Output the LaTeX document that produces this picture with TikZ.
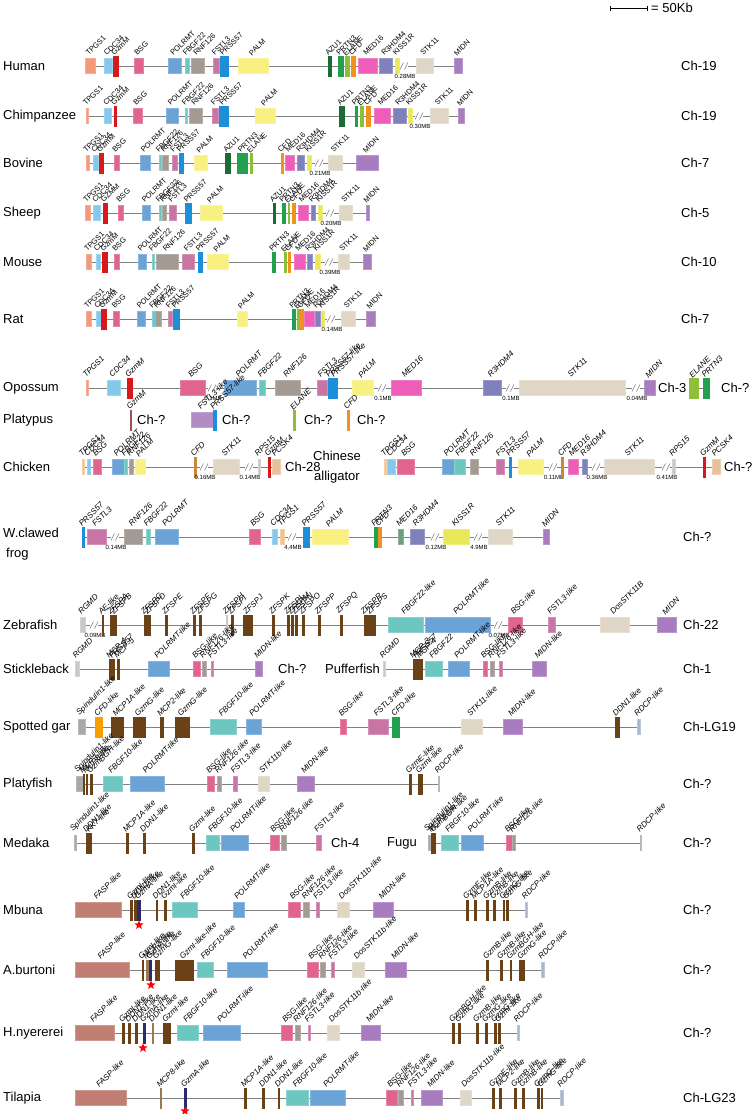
\documentclass[tikz,border=0pt]{standalone}
\usepackage{fontspec}
\setmainfont{Liberation Sans}
\usetikzlibrary{arrows.meta,shapes.geometric}

\definecolor{tpgs}{HTML}{F39A7B}
\definecolor{tpgsb}{HTML}{F2C48D}
\definecolor{cdc}{HTML}{84C9EC}
\definecolor{gzmm}{HTML}{D7191C}
\definecolor{gzmmb}{HTML}{A05050}
\definecolor{bsg}{HTML}{E0648F}
\definecolor{pol}{HTML}{6BA3D6}
\definecolor{fbgf}{HTML}{6CC7C0}
\definecolor{rnf}{HTML}{A39A93}
\definecolor{fstl}{HTML}{C875A6}
\definecolor{prss}{HTML}{1C8FD8}
\definecolor{palm}{HTML}{F8F080}
\definecolor{azu}{HTML}{1B6B36}
\definecolor{prtn}{HTML}{22A050}
\definecolor{elane}{HTML}{8DC03A}
\definecolor{cfd}{HTML}{F0921E}
\definecolor{cfdb}{HTML}{C88A3A}
\definecolor{cfdo}{HTML}{F5A000}
\definecolor{med}{HTML}{EE5DB8}
\definecolor{medf}{HTML}{6E9E80}
\definecolor{rhdm}{HTML}{8080BC}
\definecolor{kiss}{HTML}{E8E85A}
\definecolor{stk}{HTML}{E0D6C6}
\definecolor{midn}{HTML}{A87CBE}
\definecolor{midnl}{HTML}{B28CC4}
\definecolor{brn}{HTML}{6B4218}
\definecolor{brnl}{HTML}{9A7A55}
\definecolor{navy}{HTML}{2C2C6C}
\definecolor{fasp}{HTML}{C07F72}
\definecolor{rdcp}{HTML}{A9B6D2}
\definecolor{spin}{HTML}{A8A8A8}
\definecolor{rgmd}{HTML}{C8C8C8}
\definecolor{pcsk}{HTML}{E8C09A}
\definecolor{rps}{HTML}{C8C8C8}
\definecolor{chromline}{HTML}{808080}

\newcommand{\glfont}{\fontsize{7.5}{9}\selectfont}
\newcount\gcnt
\tikzset{
  chrom/.style={draw=chromline, line width=0.9pt},
  genebox/.style={line width=0.4pt},
  genelabel/.style={font=\glfont, rotate=45, anchor=south west, inner sep=0.5pt},
  distlabel/.style={font=\fontsize{6}{7}\selectfont, inner sep=0pt},
  species/.style={font=\fontsize{13}{20}\selectfont, anchor=west, inner sep=0pt},
  chromlabel/.style={font=\fontsize{13}{15}\selectfont, anchor=west, inner sep=0pt},
  brkline/.style={draw=chromline, line width=0.6pt},
  redstar/.style={star, star points=5, star point ratio=2.3, fill=red, minimum size=9.5pt, inner sep=0pt}
}
% gene box of normal height: x1, x2, colour, name
\newcommand{\gene}[4]{%
  \global\advance\gcnt by 1
  \filldraw[genebox, fill=#3, draw=#3!80!white] (#1,-7.5) rectangle (#2,7.5);
  \node[genelabel] (gl\the\gcnt) at ({(#1+#2)/2-1},9) {#4};}
% tall gene box
\newcommand{\tgene}[4]{%
  \global\advance\gcnt by 1
  \filldraw[genebox, fill=#3, draw=#3] (#1,-10) rectangle (#2,10);
  \node[genelabel] (gl\the\gcnt) at ({(#1+#2)/2-1},9) {#4};}
% break in the line, with distance
\newcommand{\brk}[2]{%
  \fill[white] (#1-4,-2) rectangle (#1+4,2);
  \draw[brkline] (#1-4,-3.5) -- (#1-0.5,3.5) (#1+0.5,-3.5) -- (#1+4,3.5);
  \node[distlabel] at (#1+1,-10) {#2};}

\begin{document}
\begin{tikzpicture}[x=1pt, y=1pt]
    \fill[white] (0,0) rectangle (752,-1114);
    \useasboundingbox (0,0) rectangle (752,-1114);

    \draw[{Bar[width=5pt]}-{Bar[width=5pt]}, line width=0.8pt] (610,-8) -- (648,-8);
    \node[chromlabel] (scale) at (651,-8) {= 50Kb};

    \begin{scope}[yshift=-66]
        \node[species] (human) at (3,0) {Human};
        \draw[chrom] (85,0) -- (462,0);
        \gene{85}{95}{tpgs}{TPGS1}
        \gene{104}{112}{cdc}{CDC34}
        \tgene{113}{118}{gzmm}{GzmM}
        \gene{134}{143}{bsg}{BSG}
        \gene{168}{181}{pol}{POLRMT}
        \gene{185}{189}{fbgf}{FBGF22}
        \gene{191}{204}{rnf}{RNF126}
        \gene{213}{219}{fstl}{FSTL3}
        \tgene{220}{228}{prss}{PRSS57}
        \gene{238}{268}{palm}{PALM}
        \tgene{328}{331}{azu}{AZU1}
        \tgene{338}{343}{prtn}{PRTN3}
        \tgene{345}{349}{elane}{ELANE}
        \tgene{351}{355}{cfd}{CFD}
        \gene{358}{377}{med}{MED16}
        \gene{379}{392}{rhdm}{R3HDM4}
        \gene{395}{399}{kiss}{KISS1R}
        \brk{404}{0.28MB}
        \gene{416}{433}{stk}{STK11}
        \gene{454}{462}{midn}{MIDN}
        \node[chromlabel] (chhuman) at (681,0) {Ch-19};
    \end{scope}

    \begin{scope}[yshift=-116]
        \node[species] (chimp) at (3,0) {Chimpanzee};
        \draw[chrom] (87,0) -- (464,0);
        \gene{86.5}{88}{tpgs}{TPGS1}
        \gene{104}{111}{cdc}{CDC34}
        \tgene{114.5}{116}{gzmm}{GzmM}
        \gene{133}{142}{bsg}{BSG}
        \gene{166}{178}{pol}{POLRMT}
        \gene{185}{187}{fbgf}{FBGF22}
        \gene{189}{202}{rnf}{RNF126}
        \gene{212}{218}{fstl}{FSTL3}
        \tgene{219}{228}{prss}{PRSS57}
        \gene{255}{275}{palm}{PALM}
        \tgene{339}{344}{azu}{AZU1}
        \tgene{355}{357}{prtn}{PRTN3}
        \tgene{360}{363}{elane}{ELANE}
        \tgene{366}{370}{cfd}{CFD}
        \gene{374}{390}{med}{MED16}
        \gene{393}{406}{rhdm}{R3HDM4}
        \gene{408}{412}{kiss}{KISS1R}
        \brk{419}{0.30MB}
        \gene{430}{448}{stk}{STK11}
        \gene{458}{464}{midn}{MIDN}
        \node[chromlabel] (chchimp) at (681,0) {Ch-19};
    \end{scope}

    \begin{scope}[yshift=-163]
        \node[species] (bovine) at (3,0) {Bovine};
        \draw[chrom] (86,0) -- (378,0);
        \gene{86}{89}{tpgs}{TPGS1}
        \gene{93}{98}{cdc}{CDC34}
        \tgene{99}{103}{gzmm}{GzmM}
        \gene{114}{119}{bsg}{BSG}
        \gene{140}{150}{pol}{POLRMT}
        \gene{159}{161}{fbgf}{FBGF22}
        \gene{162}{168}{rnf}{RNF126}
        \gene{172}{177}{fstl}{FSTL3}
        \tgene{179}{183}{prss}{PRSS57}
        \gene{194}{207}{palm}{PALM}
        \tgene{225}{230}{azu}{AZU1}
        \tgene{237}{247}{prtn}{PRTN3}
        \tgene{250}{252}{elane}{ELANE}
        \tgene{281}{283}{cfd}{CFD}
        \gene{285}{294}{med}{MED16}
        \gene{297}{304}{rhdm}{R3HDM4}
        \gene{307}{311}{kiss}{KISS1R}
        \brk{319}{0.21MB}
        \gene{328}{342}{stk}{STK11}
        \gene{356}{378}{midn}{MIDN}
        \node[chromlabel] (chbovine) at (681,0) {Ch-7};
    \end{scope}

    \begin{scope}[yshift=-213]
        \node[species] (sheep) at (3,0) {Sheep};
        \draw[chrom] (85,0) -- (369,0);
        \gene{85}{90}{tpgs}{TPGS1}
        \gene{93}{100}{cdc}{CDC34}
        \tgene{103}{107}{gzmm}{GZMM}
        \gene{118}{123}{bsg}{BSG}
        \gene{142}{150}{pol}{POLRMT}
        \gene{159}{161}{fbgf}{FBGF22}
        \gene{162}{166}{rnf}{RNF126}
        \gene{169}{176}{fstl}{FSTL3}
        \tgene{185}{191}{prss}{PRSS57}
        \gene{200}{222}{palm}{PALM}
        \tgene{273}{275}{azu}{AZU1}
        \tgene{282}{285}{prtn}{PRTN3}
        \tgene{288}{289.5}{elane}{ELANE}
        \tgene{292}{295}{cfd}{CFD}
        \gene{298}{308}{med}{MED16}
        \gene{311}{315}{rhdm}{R3HDM4}
        \gene{318}{322}{kiss}{KISS1R}
        \brk{330}{0.20MB}
        \gene{339}{352}{stk}{STK11}
        \gene{366}{369}{midn}{MIDN}
        \node[chromlabel] (chsheep) at (681,0) {Ch-5};
    \end{scope}

    \begin{scope}[yshift=-262]
        \node[species] (mouse) at (3,0) {Mouse};
        \draw[chrom] (86,0) -- (371,0);
        \gene{86}{91}{tpgs}{TPGS1}
        \gene{96}{100}{cdc}{CDC34}
        \tgene{102}{107}{gzmm}{GzmM}
        \gene{114}{119}{bsg}{BSG}
        \gene{138}{146}{pol}{POLRMT}
        \gene{152}{154}{fbgf}{FBGF22}
        \gene{156}{178}{rnf}{RNF126}
        \gene{182}{194}{fstl}{FSTL3}
        \tgene{198}{202}{prss}{PRSS57}
        \gene{207}{228}{palm}{PALM}
        \tgene{272}{275}{prtn}{PRTN3}
        \tgene{284}{286}{elane}{ELANE}
        \tgene{288}{290}{cfd}{CFD}
        \gene{294}{305}{med}{MED16}
        \gene{307}{312}{rhdm}{R3HDM4}
        \gene{315}{320}{kiss}{KISS1R}
        \brk{329}{0.39MB}
        \gene{338}{349}{stk}{STK11}
        \gene{363}{371}{midn}{MIDN}
        \node[chromlabel] (chmouse) at (681,0) {Ch-10};
    \end{scope}

    \begin{scope}[yshift=-319]
        \node[species] (rat) at (3,0) {Rat};
        \draw[chrom] (86,0) -- (375,0);
        \gene{86}{91}{tpgs}{TPGS1}
        \gene{96}{101}{cdc}{CDC34}
        \tgene{101}{106}{gzmm}{GzmM}
        \gene{113}{119}{bsg}{BSG}
        \gene{137}{145}{pol}{POLRMT}
        \gene{152}{155}{fbgf}{FBGF22}
        \gene{155}{161}{rnf}{RNF126}
        \gene{168}{172}{fstl}{FSTL3}
        \tgene{173}{179}{prss}{PRSS57}
        \gene{237}{247}{palm}{PALM}
        \tgene{292}{295}{prtn}{PRTN3}
        \tgene{297}{299}{elane}{ELANE}
        \tgene{300}{303}{cfd}{CFD}
        \gene{304}{314}{med}{MED16}
        \gene{315}{320}{rhdm}{R3HDM4}
        \gene{321}{324}{kiss}{KISS1R}
        \brk{331}{0.14MB}
        \gene{341}{355}{stk}{STK11}
        \gene{366}{375}{midn}{MIDN}
        \node[chromlabel] (chrat) at (681,0) {Ch-7};
    \end{scope}

    \begin{scope}[genelabel/.append style={font=\fontsize{8}{9}\selectfont\itshape}]
    \begin{scope}[yshift=-388]
        \node[species] (opossum) at (3,0) {Opossum};
        \draw[chrom] (87,0) -- (655,0);
        \draw[chrom] (689,0) -- (709,0);
        \gene{86.5}{88}{tpgs}{TPGS1}
        \gene{107}{120}{cdc}{CDC34}
        \tgene{127}{132}{gzmm}{GzmM}
        \gene{180}{205}{bsg}{BSG}
        \brk{212}{0.1MB}
        \gene{224}{256}{pol}{POLRMT}
        \gene{259}{265}{fbgf}{FBGF22}
        \gene{275}{300}{rnf}{RNF126}
        \gene{317}{327}{fstl}{FSTL3}
        \tgene{328}{332}{prss}{PRSS57-like}
        \tgene{333}{337}{prss}{PRSS57-like}
        \gene{352}{373}{palm}{PALM}
        \brk{382}{0.1MB}
        \gene{391}{421}{med}{MED16}
        \gene{483}{501}{rhdm}{R3HDM4}
        \brk{510}{0.1MB}
        \gene{519}{625}{stk}{STK11}
        \brk{636}{0.04MB}
        \gene{644}{655}{midn}{MIDN}
        \node[chromlabel] (chopossum) at (658,0) {Ch-3};
        \tgene{689}{698}{elane}{ELANE}
        \tgene{703}{709}{prtn}{PRTN3}
        \node[chromlabel] (chopossumb) at (721,0) {Ch-?};
    \end{scope}

    \begin{scope}[yshift=-420]
        \node[species] (platypus) at (3,0) {Platypus};
        \tgene{130.5}{131.5}{gzmmb}{GzmM}
        \node[chromlabel] (chplata) at (137,0) {Ch-?};
        \gene{191}{213}{midnl}{FSTL3-like}
        \tgene{213}{216}{prss}{PRSS57-like}
        \node[chromlabel] (chplatb) at (222,0) {Ch-?};
        \tgene{293.5}{295}{elane}{ELANE}
        \node[chromlabel] (chplatc) at (304,0) {Ch-?};
        \tgene{347}{349}{cfd}{CFD}
        \node[chromlabel] (chplatd) at (357,0) {Ch-?};
    \end{scope}

    \begin{scope}[yshift=-467]
        \node[species] (chicken) at (3,0) {Chicken};
        \draw[chrom] (83,0) -- (280,0);
        \gene{82.5}{84}{tpgsb}{TPGS1}
        \gene{87}{90}{cdc}{CDC34}
        \gene{93}{101}{bsg}{BSG}
        \gene{112}{124}{pol}{POLRMT}
        \gene{124}{127}{fbgf}{FBGF22}
        \gene{129}{133}{rnf}{RNF126}
        \gene{135}{145}{palm}{PALM}
        \tgene{194}{196}{cfdb}{CFD}
        \brk{204}{0.16MB}
        \gene{213}{239}{stk}{STK11}
        \brk{249}{0.14MB}
        \gene{258}{260}{rps}{RPS15}
        \tgene{268}{270}{gzmm}{GzmM}
        \gene{272}{280}{pcsk}{PCSK4}
        \node[chromlabel] (chchicken) at (285,0) {Ch-28};
        \node[species, anchor=center, align=center] (alligator) at (337,0) {Chinese\\alligator};
        \draw[chrom] (385,0) -- (720,0);
        \gene{384.5}{386}{tpgsb}{TPGS1}
        \gene{387}{395}{cdc}{CDC34}
        \gene{397}{414}{bsg}{BSG}
        \gene{442}{454}{pol}{POLRMT}
        \gene{454}{465}{fbgf}{FBGF22}
        \gene{470}{478}{rnf}{RNF126}
        \gene{496}{504}{fstl}{FSTL3}
        \tgene{509.5}{511}{prss}{PRSS57}
        \gene{518}{543}{palm}{PALM}
        \brk{553}{0.11MB}
        \tgene{561.5}{563}{cfdb}{CFD}
        \gene{568}{578}{med}{MED16}
        \gene{582}{587}{rhdm}{R3HDM4}
        \brk{596}{0.36MB}
        \gene{604}{654}{stk}{STK11}
        \brk{666}{0.41MB}
        \gene{672}{675}{rps}{RPS15}
        \tgene{703.5}{705}{gzmm}{GzmM}
        \gene{712}{720}{pcsk}{PCSK4}
        \node[chromlabel] (challigator) at (724,0) {Ch-?};
    \end{scope}

    \begin{scope}[yshift=-537]
        \node[species, anchor=north west, align=left] (frog) at (3,9) {W.clawed\\\hspace{3pt}frog};
        \draw[chrom] (83,0) -- (549,0);
        \tgene{82.5}{84}{prss}{PRSS57}
        \gene{87}{106}{fstl}{FSTL3}
        \brk{115}{0.14MB}
        \gene{124}{142}{rnf}{RNF126}
        \gene{146}{150}{fbgf}{FBGF22}
        \gene{155}{178}{pol}{POLRMT}
        \gene{249}{260}{bsg}{BSG}
        \gene{272}{277}{cdc}{CDC34}
        \gene{280}{284}{tpgsb}{TPGS1}
        \brk{292}{4.4MB}
        \tgene{303}{309}{prss}{PRSS57}
        \gene{312}{348}{palm}{PALM}
        \tgene{374}{377}{prtn}{PRTN3}
        \tgene{378}{381}{cfd}{CFD}
        \gene{398}{403}{medf}{MED16}
        \gene{410}{424}{rhdm}{R3HDM4}
        \brk{435}{0.12MB}
        \gene{443}{469}{kiss}{KISS1R}
        \brk{478}{4.9MB}
        \gene{488}{512}{stk}{STK11}
        \gene{543}{549}{midn}{MIDN}
        \node[chromlabel] (chfrog) at (683,0) {Ch-?};
    \end{scope}

    \begin{scope}[yshift=-625]
        \node[species] (zebrafish) at (3,0) {Zebrafish};
        \draw[chrom] (80,0) -- (676,0);
        \gene{80}{85}{rgmd}{RGMD}
        \brk{94}{0.09MB}
        \tgene{102}{103.5}{brn}{AE-like}
        \tgene{110}{113.5}{brn}{ZFSPA}
        \tgene{114.5}{116}{brn}{ZFSPB}
        \tgene{144}{146.5}{brn}{ZFSPC}
        \tgene{147.5}{150}{brn}{ZFSPD}
        \tgene{165.5}{167}{brn}{ZFSPE}
        \tgene{193.5}{195}{brn}{ZFSPF}
        \tgene{199.5}{201}{brn}{ZFSPG}
        \tgene{226.5}{227.5}{rgmd}{ZFSPH}
        \tgene{231.5}{233}{brn}{ZFSPI}
        \tgene{243}{252}{brn}{ZFSPJ}
        \tgene{272.5}{274}{brn}{ZFSPK}
        \tgene{287.5}{289}{brn}{ZFSPL}
        \tgene{291.5}{293}{brn}{ZFSPM}
        \tgene{295.5}{297}{brn}{ZFSPN}
        \tgene{302.5}{304}{brn}{ZFSPO}
        \tgene{318}{320}{brn}{ZFSPP}
        \tgene{340.5}{342}{brn}{ZFSPQ}
        \tgene{364}{366}{brn}{ZFSPR}
        \tgene{367}{375}{brn}{ZFSPS}
        \gene{388}{423}{fbgf}{FBGF22-like}
        \gene{425}{490}{pol}{POLRMT-like}
        \brk{498}{0.07MB}
        \gene{508}{522}{bsg}{BSG-like}
        \gene{548}{555}{fstl}{FSTL3-like}
        \gene{600}{629}{stk}{DosSTK11B}
        \gene{657}{676}{midn}{MIDN}
        \node[chromlabel] (chzebra) at (683,0) {Ch-22};
    \end{scope}

    \begin{scope}[yshift=-669]
        \node[species] (stickleback) at (3,0) {Stickleback};
        \draw[chrom] (75,0) -- (262,0);
        \gene{75}{79}{rgmd}{RGMD}
        \tgene{109}{112}{brn}{MCP-4}
        \tgene{112.5}{114}{brn}{PRSS57}
        \tgene{117.5}{119}{brn}{MCP-5}
        \gene{148}{169}{pol}{POLRMT-like}
        \gene{193}{200}{bsg}{BSG-like}
        \gene{202}{206}{rnf}{RNF126-like}
        \gene{211}{213}{fstl}{FSTL3-like}
        \gene{255}{262}{midn}{MIDN-like}
        \node[chromlabel] (chstickle) at (278,0) {Ch-?};
        \node[species] (puffer) at (325,0) {Pufferfish};
        \draw[chrom] (383,0) -- (546,0);
        \gene{383}{385}{rgmd}{RGMD}
        \tgene{413}{415}{brn}{MCP-3}
        \tgene{416}{418}{brn}{PRSS57}
        \tgene{419}{422}{brn}{MCP-4}
        \gene{425}{442}{fbgf}{FBGF22}
        \gene{448}{469}{pol}{POLRMT-like}
        \gene{483}{487}{bsg}{BSG-like}
        \gene{490}{494}{rnf}{RNF126-like}
        \gene{499}{502}{fstl}{FSTL3-like}
        \gene{532}{546}{midn}{MIDN-like}
        \node[chromlabel] (chpuffer) at (683,0) {Ch-1};
    \end{scope}

    \begin{scope}[yshift=-727]
        \node[species] (gar) at (3,0) {Spotted gar};
        \draw[chrom] (78,0) -- (640,0);
        \gene{78}{85}{spin}{Spindulin1-like}
        \tgene{95}{102}{cfdo}{CFD-like}
        \tgene{111}{123}{brn}{MCP1A-like}
        \tgene{133}{145}{brn}{GzmG-like}
        \tgene{160}{163}{brn}{MCP2-like}
        \tgene{175}{189}{brn}{GzmG-like}
        \gene{210}{236}{fbgf}{FBGF10-like}
        \gene{246}{261}{pol}{POLRMT-like}
        \gene{340}{346}{bsg}{BSG-like}
        \gene{368}{388}{fstl}{FSTL3-like}
        \tgene{392}{399}{prtn}{CFD-like}
        \gene{461}{482}{stk}{STK11-like}
        \gene{503}{522}{midn}{MIDN-like}
        \tgene{615}{619}{brn}{DDN1-like}
        \gene{637}{640}{rdcp}{RDCP-like}
        \node[chromlabel] (chgar) at (683,0) {Ch-LG19};
    \end{scope}

    \begin{scope}[yshift=-784]
        \node[species] (platyfish) at (3,0) {Platyfish};
        \draw[chrom] (76,0) -- (439,0);
        \gene{76}{83}{spin}{Spindulin1-like}
        \tgene{83}{84.5}{brn}{MCP3-like}
        \tgene{86}{87.5}{brn}{MCP8-like}
        \tgene{90.5}{92}{brn}{GzmBGH-like}
        \gene{103}{122}{fbgf}{FBGF10-like}
        \gene{130}{164}{pol}{POLRMT-like}
        \gene{207}{214}{bsg}{BSG-like}
        \gene{217}{221}{rnf}{RNF126-like}
        \gene{233}{237}{fstl}{FSTL3-like}
        \gene{258}{269}{stk}{STK11b-like}
        \gene{297}{314}{midn}{MIDN-like}
        \tgene{409}{411}{brn}{GzmE-like}
        \tgene{418}{422}{brn}{GzmI-like}
        \gene{438.5}{439.5}{spin}{RDCP-like}
        \node[chromlabel] (chplatyfish) at (683,0) {Ch-?};
    \end{scope}

    \begin{scope}[yshift=-843]
        \node[species] (medaka) at (3,0) {Medaka};
        \draw[chrom] (75,0) -- (321,0);
        \gene{74.5}{76}{spin}{Spindulin1-like}
        \tgene{86.5}{88}{brn}{DDN1-like}
        \tgene{89.5}{91}{brn}{KK7-like}
        \tgene{126.5}{128}{brn}{MCP1A-like}
        \tgene{143.5}{145}{brn}{DDN1-like}
        \tgene{192.5}{194}{brn}{GzmI-like}
        \gene{206}{219}{fbgf}{FBGF10-like}
        \gene{221}{248}{pol}{POLRMT-like}
        \gene{270}{279}{bsg}{BSG-like}
        \gene{281}{286}{rnf}{RNF126-like}
        \gene{316}{321}{fstl}{FSTL3-like}
        \node[chromlabel] (chmedaka) at (331,0) {Ch-4};
        \node[species] (fugu) at (387,0) {Fugu};
        \draw[chrom] (429,0) -- (641,0);
        \gene{428.5}{430}{spin}{Spindulin1-like}
        \tgene{431.5}{433}{brn}{MCP3-like}
        \tgene{433.5}{435}{brn}{GzmBGH-like}
        \gene{441}{458}{fbgf}{FBGF10-like}
        \gene{461}{483}{pol}{POLRMT-like}
        \gene{506}{512}{bsg}{BSG-like}
        \gene{512}{515}{rnf}{RNF126-like}
        \gene{640.5}{641.5}{spin}{RDCP-like}
        \node[chromlabel] (chfugu) at (683,0) {Ch-?};
    \end{scope}

    \begin{scope}[yshift=-910]
        \node[species] (mbuna) at (3,0) {Mbuna};
        \draw[chrom] (75,0) -- (527,0);
        \gene{75}{121}{fasp}{FASP-like}
        \tgene{130.5}{132}{brn}{GzmI-like}
        \tgene{134.5}{136}{brn}{DDN1-like}
        \tgene{137.5}{140.5}{navy}{GzmA-like}
        \tgene{156}{157.5}{brn}{DDN1-like}
        \tgene{164.5}{166}{brn}{GzmI-like}
        \gene{172}{197}{fbgf}{FBGF10-like}
        \gene{233}{244}{pol}{POLRMT-like}
        \gene{288}{300}{bsg}{BSG-like}
        \gene{303}{309}{rnf}{RNF126-like}
        \gene{316}{319}{fstl}{FSTL3-like}
        \gene{337}{349}{stk}{DosSTK11b-like}
        \gene{373}{393}{midn}{MIDN-like}
        \tgene{466.5}{468}{brn}{GzmE-like}
        \tgene{474.5}{476}{brn}{MCP1A-like}
        \tgene{486.5}{488}{brn}{GzmB-like}
        \tgene{493.5}{495}{brn}{GzmB-like}
        \tgene{503}{504.5}{brn}{GzmG-like}
        \tgene{506.5}{508}{brn}{GzmG-like}
        \gene{525}{527}{rdcp}{RDCP-like}
        \node[redstar] (starmbuna) at (139,-15) {};
        \node[chromlabel] (chmbuna) at (683,0) {Ch-?};
    \end{scope}

    \begin{scope}[yshift=-970]
        \node[species] (burtoni) at (3,0) {A.burtoni};
        \draw[chrom] (75,0) -- (544,0);
        \gene{75}{129}{fasp}{FASP-like}
        \tgene{142}{143.5}{brn}{GzmI-like}
        \tgene{146.5}{148}{brnl}{MCP2-like}
        \tgene{149.5}{151.5}{navy}{GzmA-like}
        \tgene{155}{159}{brn}{GzmG-like}
        \tgene{175}{193}{brn}{GzmI-like-like}
        \gene{197}{213}{fbgf}{FBGF10-like}
        \gene{227}{267}{pol}{POLRMT-like}
        \gene{307}{318}{bsg}{BSG-like}
        \gene{320}{325}{rnf}{RNF126-like}
        \gene{331}{334}{fstl}{FSTL3-like}
        \gene{352}{364}{stk}{DosSTK11b-like}
        \gene{385}{406}{midn}{MIDN-like}
        \tgene{486.5}{488}{brn}{GzmB-like}
        \tgene{500.5}{502}{brn}{GzmB-like}
        \tgene{510}{511.5}{brn}{GzmBGH-like}
        \tgene{519}{524}{brn}{GzmG-like}
        \gene{541}{544}{rdcp}{RDCP-like}
        \node[redstar] (starburtoni) at (151,-15) {};
        \node[chromlabel] (chburtoni) at (683,0) {Ch-?};
    \end{scope}

    \begin{scope}[yshift=-1033]
        \node[species] (nyererei) at (3,0) {H.nyererei};
        \draw[chrom] (75,0) -- (519,0);
        \gene{75}{114}{fasp}{FASP-like}
        \tgene{122.5}{124}{brn}{GzmI-like}
        \tgene{128.5}{130}{brn}{DDN1-like}
        \tgene{135.5}{137}{brn}{DDN1-like}
        \tgene{143.5}{145}{navy}{GzmA-like}
        \tgene{152.5}{153.5}{brnl}{DDN1-like}
        \tgene{163}{170}{brn}{GzmI-like}
        \gene{177}{198}{fbgf}{FBGF10-like}
        \gene{203}{240}{pol}{POLRMT-like}
        \gene{281}{292}{bsg}{BSG-like}
        \gene{295}{300}{rnf}{RNF126-like}
        \gene{308}{310}{fstl}{FSTL3-like}
        \gene{327}{339}{stk}{DosSTK11b-like}
        \gene{361}{380}{midn}{MIDN-like}
        \tgene{452.5}{454}{brn}{GzmBGH-like}
        \tgene{458.5}{460}{brn}{GzmG-like}
        \tgene{476.5}{478}{brn}{GzmB-like}
        \tgene{485.5}{487}{brn}{GzmG-like}
        \tgene{494.5}{496}{brn}{GzmG-like}
        \tgene{498.5}{500}{brn}{GzmI-like}
        \gene{517}{519}{rdcp}{RDCP-like}
        \node[redstar] (starnyererei) at (143,-15) {};
        \node[chromlabel] (chnyererei) at (683,0) {Ch-?};
    \end{scope}

    \begin{scope}[yshift=-1098]
        \node[species] (tilapia) at (3,0) {Tilapia};
        \draw[chrom] (75,0) -- (563,0);
        \gene{75}{126}{fasp}{FASP-like}
        \tgene{160.5}{161.5}{brnl}{MCP8-like}
        \tgene{184.5}{186}{navy}{GzmA-like}
        \tgene{244.5}{246}{brn}{MCP1A-like}
        \tgene{262.5}{264}{brn}{DDN1-like}
        \tgene{278.5}{279.5}{brn}{DDN1-like}
        \gene{286}{308}{fbgf}{FBGF10-like}
        \gene{310}{345}{pol}{POLRMT-like}
        \gene{386}{397}{bsg}{BSG-like}
        \gene{398}{403}{rnf}{RNF126-like}
        \gene{411}{413}{fstl}{FSTL3-like}
        \gene{421}{442}{midn}{MIDN-like}
        \gene{460}{471}{stk}{DosSTK11b-like}
        \tgene{492.5}{494}{brn}{GzmE-like}
        \tgene{499.5}{501}{brn}{MCP2-like}
        \tgene{514.5}{516}{brn}{GzmB-like}
        \tgene{522.5}{524}{brn}{GzmB-like}
        \tgene{537.5}{539}{brn}{GzmG-like}
        \tgene{541}{542.5}{brn}{GzmG-like}
        \gene{560}{563}{rdcp}{RDCP-like}
        \node[redstar] (startilapia) at (185,-13) {};
        \node[chromlabel] (chtilapia) at (683,0) {Ch-LG23};
    \end{scope}
    \end{scope}
\end{tikzpicture}
\end{document}
